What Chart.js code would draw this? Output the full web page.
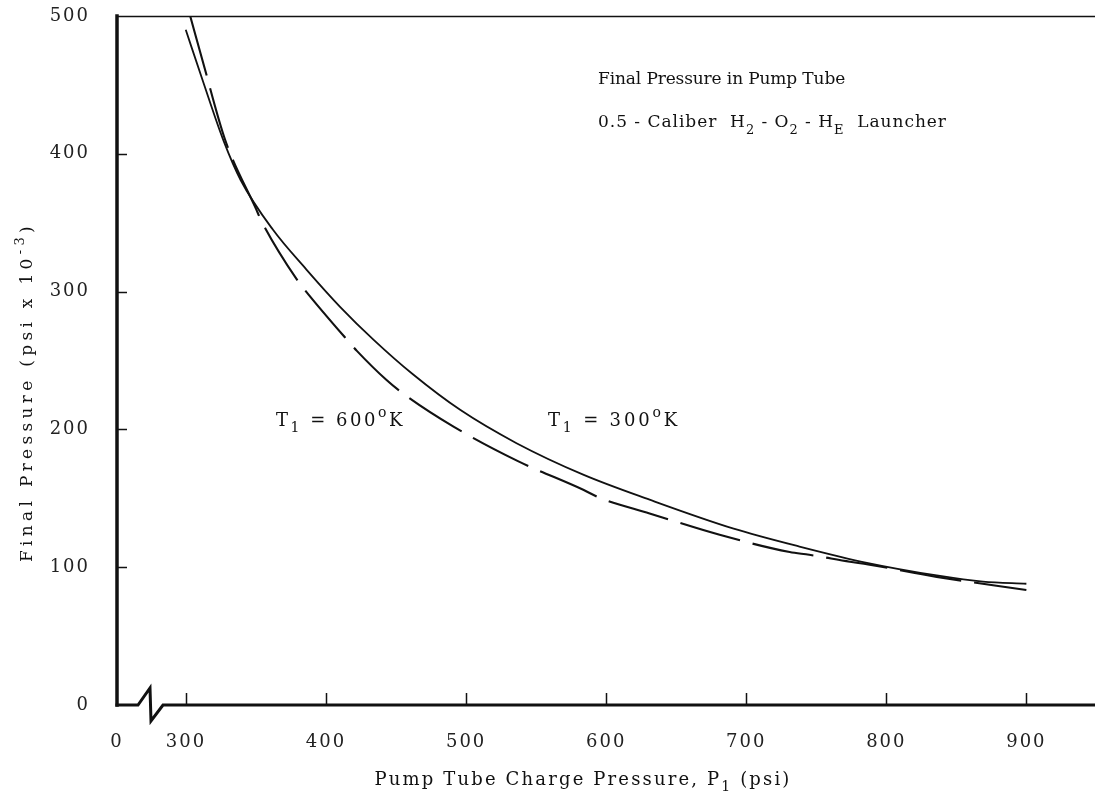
<!DOCTYPE html>
<html>
<head>
<meta charset="utf-8">
<title>Final Pressure in Pump Tube</title>
<script src="https://cdn.jsdelivr.net/npm/chart.js@4.4.1/dist/chart.umd.min.js"></script>
<style>
  html, body { margin: 0; padding: 0; background: #fff; }
  #wrap { width: 1095px; height: 797px; }
</style>
</head>
<body>
<div id="wrap"><canvas id="chart"></canvas></div>
<script>
// pump tube charge pressure P1 (psi) and final pressure (psi x 10^-3)
const p1At300K = [299, 312, 327, 339, 362, 386, 410, 434, 462, 496, 536, 584, 631, 691, 738, 787, 836, 869, 900];
const finalAt300K = [490, 453, 409, 381, 345, 316, 289, 265, 240, 214, 190, 167, 149, 128, 115, 103, 94, 89.5, 88];

const p1At600K = [303, 312, 328, 350, 354, 379, 385, 415, 422, 443, 455, 491, 537, 584, 596, 631, 681, 731, 745, 774, 787, 836, 900];
const finalAt600K = [500, 467, 410, 360, 351, 309, 301, 265, 257, 236, 226, 202, 177, 156, 150, 139, 123.5, 111, 109, 104, 102, 93, 83.5];

const xTicks = [0, 300, 400, 500, 600, 700, 800, 900];
const yTicks = [0, 100, 200, 300, 400, 500];

// x axis is broken between 0 and 300
const BREAK_AT = 300;
const BREAK_SPAN = 49.25;

class BrokenScale extends Chart.LinearScale {
  toVirtual(v) {
    return v <= BREAK_AT ? v * BREAK_SPAN / BREAK_AT : BREAK_SPAN + (v - BREAK_AT);
  }
  fromVirtual(u) {
    return u <= BREAK_SPAN ? u * BREAK_AT / BREAK_SPAN : u - BREAK_SPAN + BREAK_AT;
  }
  getPixelForValue(v) {
    return this.getPixelForDecimal(this.toVirtual(v) / this.toVirtual(this.max));
  }
  getValueForPixel(p) {
    return this.fromVirtual(this.getDecimalForPixel(p) * this.toVirtual(this.max));
  }
}
BrokenScale.id = 'broken';
BrokenScale.defaults = Chart.LinearScale.defaults;
Chart.register(BrokenScale);

const FONT = '"DejaVu Serif", "Liberation Serif", serif';
const INK = '#111';

// rich text: parts are [text, kind] with kind '', 'sub' or 'sup'
function partFont(size, kind) {
  return (kind ? Math.round(size * 0.75) : size) + 'px ' + FONT;
}
function drawRich(ctx, parts, x, y, size, target, align) {
  ctx.save();
  ctx.letterSpacing = '0px';
  let w0 = 0, n = 0;
  parts.forEach(([t, k]) => {
    ctx.font = partFont(size, k);
    w0 += ctx.measureText(t).width;
    n += t.length;
  });
  const ls = target ? (target - w0) / n : 0;
  let cx = align === 'center' ? x - (w0 + ls * n) / 2 : x;
  ctx.fillStyle = INK;
  ctx.textBaseline = 'middle';
  ctx.textAlign = 'left';
  parts.forEach(([t, k]) => {
    ctx.font = partFont(size, k);
    ctx.letterSpacing = '0px';
    const w = ctx.measureText(t).width;
    ctx.letterSpacing = ls.toFixed(2) + 'px';
    const dy = k === 'sub' ? size * 0.42 : k === 'sup' ? -size * 0.42 : 0;
    ctx.fillText(t, cx, y + dy);
    cx += w + ls * t.length;
  });
  ctx.restore();
}

const noPad = s => {
  s.paddingTop = 0;
  s.paddingBottom = 0;
  s.paddingLeft = 0;
  s.paddingRight = 0;
};

const frame = {
  id: 'frame',
  beforeDraw(chart) {
    chart.ctx.letterSpacing = '2px';
  },
  afterDatasetsDraw(chart) {
    const { ctx, chartArea: a, scales: { x, y } } = chart;
    ctx.save();
    ctx.strokeStyle = INK;
    ctx.lineCap = 'square';

    // top rule
    ctx.lineWidth = 1.6;
    ctx.beginPath();
    ctx.moveTo(a.left, a.top + 0.5);
    ctx.lineTo(a.right, a.top + 0.5);
    ctx.stroke();

    // left axis
    ctx.lineWidth = 3.5;
    ctx.beginPath();
    ctx.moveTo(a.left, a.top);
    ctx.lineTo(a.left, a.bottom);
    ctx.stroke();

    // bottom axis with break mark
    const b = a.bottom;
    const x0 = a.left;
    ctx.lineWidth = 3;
    ctx.lineJoin = 'miter';
    ctx.beginPath();
    ctx.moveTo(x0, b);
    ctx.lineTo(x0 + 21, b);
    ctx.lineTo(x0 + 33, b - 17);
    ctx.lineTo(x0 + 34, b + 16);
    ctx.lineTo(x0 + 46, b);
    ctx.lineTo(a.right, b);
    ctx.stroke();

    // inward tick marks
    ctx.lineWidth = 1.5;
    ctx.lineCap = 'butt';
    ctx.beginPath();
    xTicks.filter(v => v > 0).forEach(v => {
      const px = Math.round(x.getPixelForValue(v)) + 0.5;
      ctx.moveTo(px, b);
      ctx.lineTo(px, b - 12);
    });
    yTicks.filter(v => v > 0 && v < 500).forEach(v => {
      const py = Math.round(y.getPixelForValue(v)) + 0.5;
      ctx.moveTo(a.left, py);
      ctx.lineTo(a.left + 10, py);
    });
    ctx.stroke();
    ctx.restore();

    // annotations
    drawRich(ctx, [['Final Pressure in Pump Tube', '']], 598, 80, 17, 247);
    drawRich(ctx, [['0.5 - Caliber  H', ''], ['2', 'sub'], [' - O', ''], ['2', 'sub'],
      [' - H', ''], ['E', 'sub'], ['  Launcher', '']], 598, 123, 17, 349);
    drawRich(ctx, [['T', ''], ['1', 'sub'], [' = 600', ''], ['o', 'sup'], ['K', '']], 276, 421, 18, 129);
    drawRich(ctx, [['T', ''], ['1', 'sub'], [' = 300', ''], ['o', 'sup'], ['K', '']], 548, 421, 18, 132);

    // axis titles
    drawRich(ctx, [['Pump Tube Charge Pressure, P', ''], ['1', 'sub'], [' (psi)', '']], 583, 780, 18, 417, 'center');
    ctx.save();
    ctx.translate(28, 392);
    ctx.rotate(-Math.PI / 2);
    drawRich(ctx, [['Final Pressure (psi x 10', ''], ['-3', 'sup'], [')', '']], 0, 0, 17, 340, 'center');
    ctx.restore();
  },
  afterDraw(chart) {
    chart.ctx.letterSpacing = '0px';
  }
};

new Chart(document.getElementById('chart'), {
  type: 'line',
  data: {
    datasets: [
      {
        label: 'T1 = 300°K',
        data: p1At300K.map((v, i) => ({ x: v, y: finalAt300K[i] })),
        borderColor: INK,
        borderWidth: 1.8,
        pointRadius: 0,
        cubicInterpolationMode: 'monotone',
        fill: false
      },
      {
        label: 'T1 = 600°K',
        data: p1At600K.map((v, i) => ({ x: v, y: finalAt600K[i] })),
        borderColor: INK,
        borderWidth: 2.1,
        borderDash: [62, 13],
        pointRadius: 0,
        cubicInterpolationMode: 'monotone',
        fill: false
      }
    ]
  },
  options: {
    responsive: true,
    maintainAspectRatio: false,
    animation: false,
    layout: { padding: { top: 16, right: 0, left: 0, bottom: 0 } },
    plugins: { legend: { display: false }, tooltip: { enabled: false } },
    scales: {
      x: {
        type: 'broken',
        min: 0,
        max: 949,
        grid: { display: false },
        border: { display: false },
        afterBuildTicks: s => { s.ticks = xTicks.map(v => ({ value: v })); },
        afterFit: s => { s.height = 92; noPad(s); },
        ticks: { color: '#222', font: { family: FONT, size: 18 }, padding: 19, maxRotation: 0, autoSkip: false }
      },
      y: {
        min: 0,
        max: 500,
        grid: { display: false },
        border: { display: false },
        afterBuildTicks: s => { s.ticks = yTicks.map(v => ({ value: v })); },
        afterFit: s => { s.width = 117; noPad(s); },
        ticks: { color: '#222', font: { family: FONT, size: 18 }, padding: 19 }
      }
    }
  },
  plugins: [frame]
});
</script>
</body>
</html>
